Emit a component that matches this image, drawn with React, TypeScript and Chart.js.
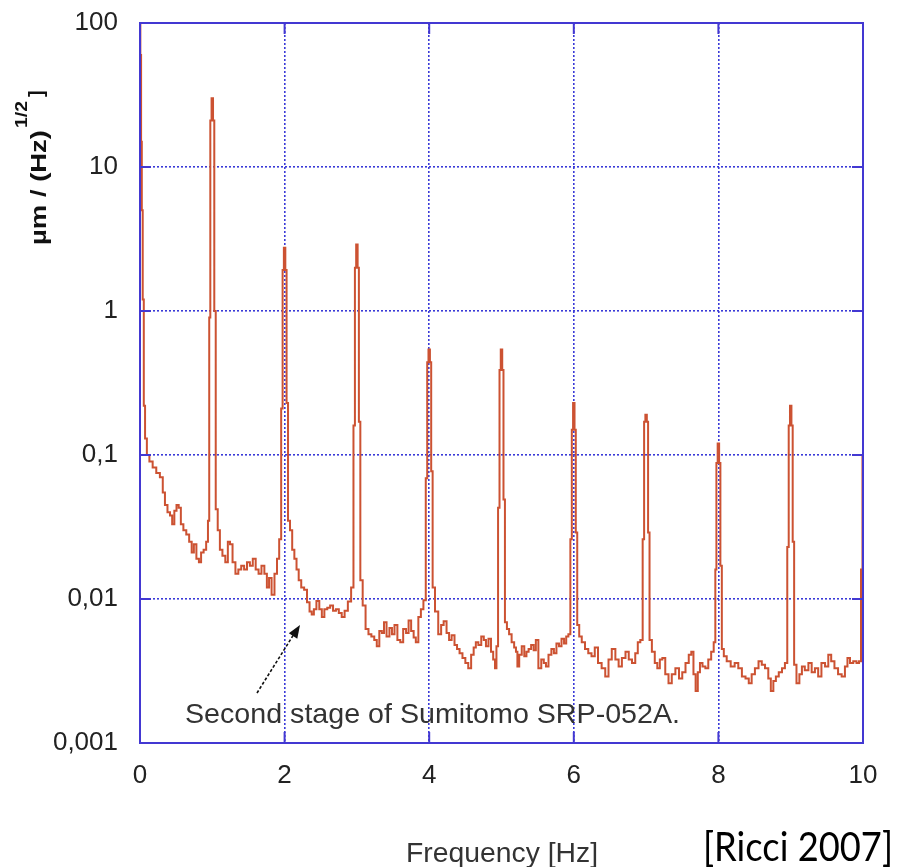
import React, { useEffect, useRef } from 'react';
import { Chart, registerables } from 'chart.js';

Chart.register(...registerables);

const X_TICKS = [0, 2, 4, 6, 8, 10];
const Y_TICK_VALUES = [0.001, 0.01, 0.1, 1, 10, 100];
const Y_TICK_LABELS = ['0,001', '0,01', '0,1', '1', '10', '100'];

const FREQ_HZ = [
  0, 0.01, 0.02, 0.03, 0.045, 0.06, 0.08, 0.11, 0.15, 0.2, 0.25, 0.3, 0.33, 0.36, 0.4, 0.43, 0.46, 0.49, 0.52, 0.55, 0.58, 0.62, 0.66, 0.7, 0.73, 0.76, 0.8, 0.83, 0.86, 0.9, 0.93, 0.95,
  0.965, 0.98, 1.0, 1.02, 1.035,
  1.06, 1.09, 1.12, 1.16, 1.2, 1.23, 1.26, 1.3, 1.34, 1.38, 1.42, 1.46, 1.5, 1.54, 1.58, 1.62, 1.66, 1.7, 1.74, 1.77, 1.8, 1.84, 1.88, 1.91, 1.94,
  1.965, 1.98, 2.0, 2.02, 2.035,
  2.06, 2.09, 2.12, 2.15, 2.18, 2.21, 2.25, 2.29, 2.33, 2.36, 2.39, 2.42, 2.46, 2.5, 2.53, 2.57, 2.61, 2.65, 2.69, 2.73, 2.77, 2.81, 2.85, 2.9, 2.94,
  2.965, 2.98, 3.0, 3.02, 3.035,
  3.06, 3.1, 3.14, 3.18, 3.22, 3.26, 3.29, 3.33, 3.36, 3.39, 3.43, 3.47, 3.5, 3.54, 3.58, 3.62, 3.66, 3.7, 3.73, 3.77, 3.8, 3.83, 3.87, 3.9, 3.94,
  3.965, 3.98, 4.0, 4.02, 4.035,
  4.06, 4.1, 4.15, 4.18, 4.22, 4.26, 4.29, 4.33, 4.37, 4.4, 4.44, 4.48, 4.52, 4.56, 4.6, 4.63, 4.66, 4.7, 4.74, 4.77, 4.8, 4.84, 4.87, 4.9, 4.92, 4.94,
  4.965, 4.98, 5.0, 5.02, 5.035,
  5.06, 5.09, 5.12, 5.16, 5.19, 5.21, 5.23, 5.26, 5.3, 5.33, 5.36, 5.39, 5.43, 5.46, 5.49, 5.53, 5.57, 5.6, 5.63, 5.67, 5.71, 5.74, 5.78, 5.81, 5.85, 5.88, 5.91, 5.94,
  5.965, 5.98, 6.0, 6.02, 6.035,
  6.06, 6.09, 6.13, 6.18, 6.22, 6.27, 6.31, 6.36, 6.41, 6.46, 6.5, 6.55, 6.6, 6.64, 6.69, 6.74, 6.78, 6.83, 6.87, 6.9, 6.94,
  6.965, 6.98, 7.0, 7.02, 7.035,
  7.06, 7.1, 7.14, 7.17, 7.21, 7.24, 7.29, 7.33, 7.38, 7.43, 7.48, 7.52, 7.57, 7.61, 7.64, 7.67, 7.7, 7.73, 7.76, 7.8, 7.84, 7.88, 7.92, 7.95,
  7.965, 7.98, 8.0, 8.02, 8.035,
  8.06, 8.09, 8.14, 8.2, 8.25, 8.3, 8.35, 8.4, 8.44, 8.48, 8.53, 8.58, 8.62, 8.67, 8.71, 8.74, 8.78, 8.81, 8.86, 8.9, 8.94,
  8.965, 8.98, 9.0, 9.02, 9.035,
  9.06, 9.1, 9.14, 9.17, 9.22, 9.27, 9.31, 9.36, 9.4, 9.45, 9.5, 9.54, 9.58, 9.63, 9.68, 9.73, 9.77, 9.8, 9.84, 9.89, 9.93, 9.96, 9.985, 10.0,
];

const ASD_UM = [
  100, 60, 15, 5, 1.2, 0.22, 0.13, 0.1, 0.09, 0.082, 0.075, 0.07, 0.055, 0.045, 0.04, 0.038, 0.033, 0.041, 0.045, 0.043, 0.033, 0.03, 0.028, 0.025, 0.021, 0.024, 0.019, 0.018, 0.021, 0.022, 0.025, 0.035,
  0.9, 21, 30, 21, 1.0,
  0.042, 0.03, 0.022, 0.02, 0.018, 0.025, 0.024, 0.018, 0.015, 0.016, 0.017, 0.016, 0.018, 0.017, 0.019, 0.016, 0.015, 0.017, 0.015, 0.012, 0.014, 0.0107, 0.015, 0.019, 0.026,
  0.21, 1.93, 2.75, 1.93, 0.23,
  0.035, 0.03, 0.022, 0.019, 0.016, 0.0135, 0.012, 0.0116, 0.0095, 0.0082, 0.0078, 0.0085, 0.0097, 0.0085, 0.0075, 0.0085, 0.0087, 0.009, 0.0083, 0.0085, 0.008, 0.0075, 0.0083, 0.0096, 0.012,
  0.16, 2.0, 2.9, 2.0, 0.17,
  0.0135, 0.009, 0.0062, 0.0057, 0.0055, 0.0052, 0.0047, 0.006, 0.0058, 0.0069, 0.0055, 0.0063, 0.0057, 0.0066, 0.0052, 0.005, 0.0062, 0.0058, 0.0071, 0.006, 0.0054, 0.005, 0.0075, 0.0085, 0.0098,
  0.069, 0.44, 0.54, 0.44, 0.077,
  0.012, 0.0082, 0.0057, 0.0066, 0.007, 0.0058, 0.0052, 0.0056, 0.0048, 0.0045, 0.0042, 0.0039, 0.0036, 0.0033, 0.0041, 0.0046, 0.005, 0.0048, 0.0055, 0.0052, 0.0047, 0.0053, 0.0043, 0.0038, 0.0033, 0.0047,
  0.043, 0.39, 0.54, 0.39, 0.049,
  0.0069, 0.0062, 0.0057, 0.005, 0.0046, 0.0043, 0.0034, 0.0041, 0.0047, 0.004, 0.0043, 0.0045, 0.0048, 0.0044, 0.0052, 0.0033, 0.0038, 0.0036, 0.0034, 0.0041, 0.0045, 0.0042, 0.0049, 0.0047, 0.0053, 0.0049, 0.0055, 0.0057,
  0.026, 0.15, 0.23, 0.15, 0.029,
  0.0066, 0.0055, 0.005, 0.0045, 0.0042, 0.004, 0.0046, 0.0036, 0.0033, 0.0029, 0.0038, 0.0045, 0.0038, 0.0034, 0.0039, 0.0043, 0.0038, 0.0036, 0.0042, 0.005, 0.0052,
  0.026, 0.17, 0.19, 0.17, 0.029,
  0.0052, 0.0043, 0.0036, 0.0033, 0.0038, 0.0039, 0.003, 0.0026, 0.003, 0.0033, 0.0028, 0.0031, 0.0036, 0.0041, 0.0043, 0.003, 0.0023, 0.0031, 0.0036, 0.0034, 0.0033, 0.0038, 0.0043, 0.005,
  0.016, 0.088, 0.12, 0.088, 0.017,
  0.0045, 0.004, 0.0037, 0.0034, 0.0036, 0.0033, 0.0029, 0.0028, 0.0026, 0.003, 0.0033, 0.0037, 0.0035, 0.0033, 0.0028, 0.0023, 0.0027, 0.0029, 0.0031, 0.0033, 0.0036,
  0.023, 0.16, 0.22, 0.16, 0.025,
  0.0035, 0.0026, 0.003, 0.0034, 0.0032, 0.0036, 0.0031, 0.0033, 0.0029, 0.0036, 0.0034, 0.0041, 0.0037, 0.0033, 0.003, 0.0029, 0.0034, 0.0039, 0.0036, 0.0037, 0.0036, 0.0037, 0.016, 0.1,
];

const LINE_COLOR = '#cc5232';
const AXIS_BLUE = '#4338d2';
const GRID_BLUE = '#3a3ad8';
const FONT = '"Liberation Sans", Arial, sans-serif';

function fitText(ctx: CanvasRenderingContext2D, text: string, x: number, y: number, width: number, font: string, color: string) {
  ctx.save();
  ctx.font = font;
  ctx.fillStyle = color;
  ctx.textAlign = 'left';
  ctx.textBaseline = 'alphabetic';
  const w = ctx.measureText(text).width || 1;
  ctx.translate(x, y);
  ctx.scale(width / w, 1);
  ctx.fillText(text, 0, 0);
  ctx.restore();
}

const overlayPlugin = {
  id: 'overlay',
  afterDraw(chart: any) {
    const { ctx, chartArea: a, scales } = chart;
    const xs = scales.x;
    const ys = scales.y;
    ctx.save();
    ctx.strokeStyle = AXIS_BLUE;
    ctx.lineWidth = 2;
    ctx.setLineDash([]);
    ctx.strokeRect(a.left, a.top, a.right - a.left, a.bottom - a.top);
    const seg = (x1: number, y1: number, x2: number, y2: number) => {
      ctx.beginPath();
      ctx.moveTo(x1, y1);
      ctx.lineTo(x2, y2);
      ctx.stroke();
    };
    for (const v of X_TICKS) {
      const px = xs.getPixelForValue(v);
      seg(px, a.top, px, a.top + 11);
      seg(px, a.bottom, px, a.bottom - 11);
    }
    for (const v of Y_TICK_VALUES) {
      const py = ys.getPixelForValue(v);
      seg(a.left, py, a.left + 11, py);
      seg(a.right, py, a.right - 11, py);
    }

    ctx.save();
    ctx.translate(46, 245);
    ctx.rotate(-Math.PI / 2);
    fitText(ctx, 'µm / (Hz)', 0, 0, 115, `bold 22px ${FONT}`, '#111');
    fitText(ctx, '1/2', 117, -19, 27, `bold 17px ${FONT}`, '#111');
    ctx.font = `bold 20px ${FONT}`;
    ctx.fillStyle = '#111';
    ctx.textBaseline = 'alphabetic';
    ctx.fillText(']', 148, -3);
    ctx.restore();

    fitText(ctx, 'Frequency [Hz]', 406, 862, 192, `27px ${FONT}`, '#333');
    fitText(ctx, 'Second stage of Sumitomo SRP-052A.', 185, 723, 495, `28px ${FONT}`, '#333');

    const x0 = 257, y0 = 693, x1 = 300, y1 = 625;
    ctx.strokeStyle = '#111';
    ctx.lineWidth = 1.6;
    ctx.setLineDash([3, 2]);
    seg(x0, y0, x1 - 6, y1 + 9);
    ctx.setLineDash([]);
    const ang = Math.atan2(y1 - y0, x1 - x0);
    const L = 13, W = 5;
    ctx.fillStyle = '#111';
    ctx.beginPath();
    ctx.moveTo(x1, y1);
    ctx.lineTo(x1 - L * Math.cos(ang) + W * Math.sin(ang), y1 - L * Math.sin(ang) - W * Math.cos(ang));
    ctx.lineTo(x1 - L * Math.cos(ang) - W * Math.sin(ang), y1 - L * Math.sin(ang) + W * Math.cos(ang));
    ctx.closePath();
    ctx.fill();

    fitText(ctx, '[Ricci 2007]', 703, 861, 190, `40px Lato, "Open Sans", sans-serif`, '#000');
    ctx.restore();
  },
};

export default function App() {
  const ref = useRef<HTMLCanvasElement | null>(null);

  useEffect(() => {
    if (!ref.current) return;
    const points = FREQ_HZ.map((f, i) => ({ x: f, y: ASD_UM[i] }));
    const chart = new Chart(ref.current, {
      type: 'line',
      data: {
        datasets: [
          {
            data: points,
            borderColor: LINE_COLOR,
            borderWidth: 2,
            pointRadius: 0,
            stepped: 'middle',
            fill: false,
          },
        ],
      },
      options: {
        responsive: false,
        animation: false,
        layout: { padding: { top: 23, right: 38, left: 0, bottom: 0 } },
        plugins: { legend: { display: false }, tooltip: { enabled: false } },
        scales: {
          x: {
            type: 'linear',
            min: 0,
            max: 10,
            afterBuildTicks: (s: any) => {
              s.ticks = X_TICKS.map((v) => ({ value: v }));
            },
            afterFit: (s: any) => {
              s.height = 124;
              s.paddingLeft = 0;
              s.paddingRight = 0;
            },
            ticks: {
              autoSkip: false,
              maxRotation: 0,
              padding: 17,
              color: '#222',
              font: { family: FONT, size: 26 },
              callback: (v: any) => String(v),
            },
            grid: {
              drawTicks: false,
              lineWidth: 1.6,
              color: (c: any) => (c.tick && (c.tick.value === 0 || c.tick.value === 10) ? 'rgba(0,0,0,0)' : GRID_BLUE),
            },
            border: { display: true, color: AXIS_BLUE, width: 2, dash: [2, 2] },
          },
          y: {
            type: 'logarithmic',
            min: 0.001,
            max: 100,
            afterBuildTicks: (s: any) => {
              s.ticks = Y_TICK_VALUES.map((v) => ({ value: v }));
            },
            afterFit: (s: any) => {
              s.width = 140;
              s.paddingTop = 0;
              s.paddingBottom = 0;
            },
            ticks: {
              autoSkip: false,
              padding: 22,
              color: '#222',
              font: { family: FONT, size: 26 },
              callback: (v: any) => {
                const i = Y_TICK_VALUES.findIndex((t) => Math.abs(t - Number(v)) < t * 1e-6);
                return i >= 0 ? Y_TICK_LABELS[i] : '';
              },
            },
            grid: {
              drawTicks: false,
              lineWidth: 1.6,
              color: (c: any) =>
                c.tick && (Math.abs(c.tick.value - 0.001) < 1e-9 || c.tick.value === 100) ? 'rgba(0,0,0,0)' : GRID_BLUE,
            },
            border: { display: true, color: AXIS_BLUE, width: 2, dash: [2, 2] },
          },
        },
      },
      plugins: [overlayPlugin],
    } as any);
    return () => chart.destroy();
  }, []);

  return (
    <canvas
      ref={ref}
      width={901}
      height={867}
      style={{ position: 'absolute', left: 0, top: 0, width: 901, height: 867, background: '#fff' }}
    />
  );
}
